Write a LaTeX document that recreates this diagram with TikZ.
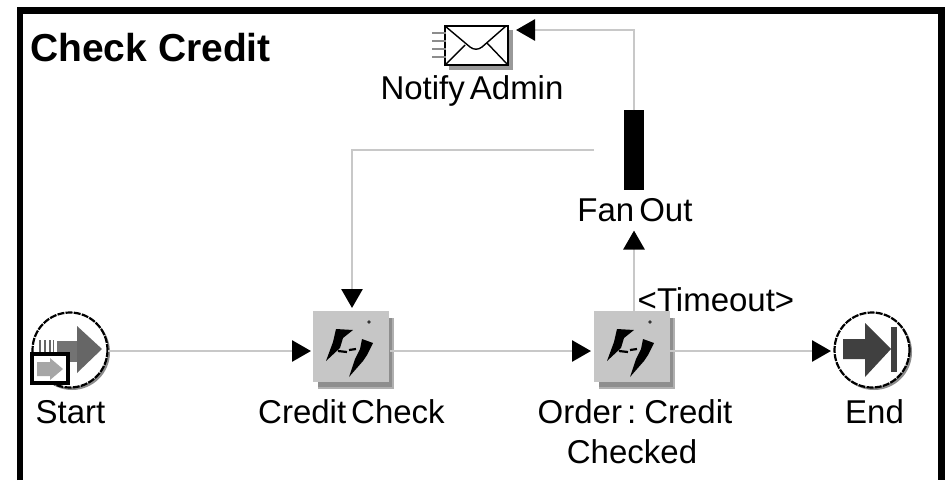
\documentclass[tikz,border=0pt]{standalone}
\usepackage{fontspec}
\setmainfont{Liberation Sans}
\usetikzlibrary{arrows.meta}
\definecolor{boxgray}{HTML}{C6C6C6}
\definecolor{shadowgray}{HTML}{8E8E8E}
\definecolor{linegray}{HTML}{C8C8C8}
\definecolor{darkarrow}{HTML}{404040}
\tikzset{
  conn/.style={draw=linegray,line width=2.8pt,-{Triangle[color=black,length=19pt,width=21pt]},shorten >=3pt},
  lbl/.style={font=\fontsize{33}{38}\selectfont,execute at begin node={\spaceskip=5pt\relax},inner sep=0pt},
  anchorbox/.style={inner sep=0pt,outer sep=0pt,minimum width=#1,minimum height=#1},
  fanbar/.style={fill=black,inner sep=0pt,outer sep=0pt,minimum width=20pt,minimum height=80pt},
}
\newcommand{\taskicon}[2]{%
  \begin{scope}[shift={(#1,#2)}]
    \fill[shadowgray!70] (5,7) rectangle (81,78);
    \fill[shadowgray] (5,7) rectangle (79,76);
    \fill[boxgray] (0,0) rectangle (76,71);
    \fill[black] (23,18) -- (40,19) -- (30,27) -- (27,37) -- (13,50) -- (20,31) -- cycle;
    \fill[black] (49,28) -- (60,32) -- (54,44) -- (50,50) -- (36,66) -- (42,48) -- (47,38) -- cycle;
    \draw[black,line width=2.2pt] (25,40) -- (34,41) (36,39) -- (43,38);
    \fill[black!80] (56,11) circle (1.8);
  \end{scope}}
\begin{document}
\begin{tikzpicture}[x=1pt,y=-1pt]
\useasboundingbox (0,0) rectangle (947,480);
\fill[white] (0,0) rectangle (947,480);
\draw[black,line width=6.5pt] (20,480) -- (20,10.5) -- (941.5,10.5) -- (941.5,480);
\node[inner sep=0pt,font=\fontsize{39}{44}\selectfont\bfseries,anchor=base west] (title) at (30,61) {Check Credit};

% icons
\taskicon{313}{311}
\taskicon{594}{311}
% start
\fill[black!45] (72,352) circle (38);
\draw[black,line width=2.2pt,fill=white,dash pattern=on 7pt off 1.2pt] (70,350) circle (37.5);
\fill[black!55] (57,341) rectangle (78,362);
\fill[darkarrow!80!white] (77,326) -- (102,349) -- (77,373) -- cycle;
\draw[black!60,line width=1.2pt] (40,340) -- (40,352) (45,340) -- (45,352) (50,340) -- (50,352) (53.5,340) -- (53.5,352);
\fill[white] (30,352) rectangle (70,385);
\draw[black,line width=4pt] (32,354) rectangle (68,383);
\fill[black!35] (37,362) -- (50,362) -- (50,358) -- (63,369) -- (50,380) -- (50,376) -- (37,376) -- cycle;
% end
\fill[black!45] (874,352) circle (38);
\draw[black,line width=2.2pt,fill=white,dash pattern=on 7pt off 1.2pt] (872,350) circle (37.5);
\fill[darkarrow] (843,339) -- (865,339) -- (865,323) -- (891,349) -- (865,377) -- (865,359) -- (843,359) -- cycle;
\fill[darkarrow] (891,327) rectangle (897,372);
% envelope
\fill[black!40] (449,30) rectangle (513,70);
\draw[black,line width=2pt,fill=white] (445,26) rectangle (508,65);
\draw[black,line width=1.4pt] (445,26) -- (470,47) .. controls (474,50) and (478,50) .. (482,47) -- (506,26);
\draw[black,line width=1.4pt] (445,65) -- (465,45) (508,65) -- (487,43);
\draw[black!45,line width=2pt] (432,33) -- (446,33) (432,41) -- (446,41) (432,49) -- (446,49) (432,57) -- (446,57);

% anchors of the nodes
\node[anchorbox=76pt] (start) at (70,350) {};
\node[anchorbox=71pt,minimum width=76pt] (cc) at (352,346.5) {};
\node[anchorbox=71pt,minimum width=76pt] (oc) at (632,346.5) {};
\node[anchorbox=76pt] (end) at (872,350) {};
\node[inner sep=0pt,outer sep=0pt,minimum width=68pt,minimum height=40pt] (notify) at (479,45.5) {};
\node[fanbar] (fan) at (634,150) {};

% labels
\node[lbl,anchor=base] (lstart) at (70.5,423) {Start};
\node[lbl,anchor=base] (lcc) at (351.5,423) {Credit Check};
\node[lbl,anchor=base] (loc1) at (635,423) {Order : Credit};
\node[lbl,anchor=base] (loc2) at (632,463) {Checked};
\node[lbl,anchor=base] (lend) at (874.5,423) {End};
\node[lbl,anchor=base] (lnotify) at (472,99) {Notify Admin};
\node[lbl,anchor=base] (lfan) at (635,221) {Fan Out};
\node[lbl,anchor=base] (ltime) at (716,311) {<Timeout>};

% connectors
\draw[conn] (start.east |- 0,351) -- (cc.west |- 0,351);
\draw[conn] (cc.east |- 0,351) -- (oc.west |- 0,351);
\draw[conn] (oc.east |- 0,351) -- (end.west |- 0,351);
\draw[conn,shorten <=30pt] (fan.west) -| (cc.north);
\draw[conn,shorten >=9pt] (fan |- oc.north) -- (fan |- lfan.south);
\draw[conn] (fan.north) |- (notify.east |- 0,30);
\end{tikzpicture}
\end{document}
